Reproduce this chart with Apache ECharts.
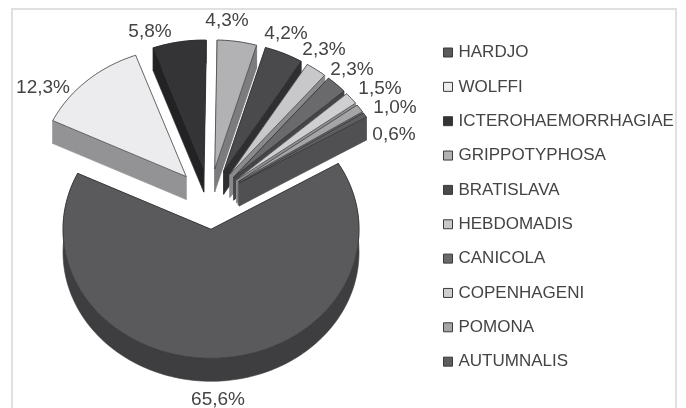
<!DOCTYPE html>
<html>
<head>
<meta charset="utf-8">
<style>html,body{margin:0;padding:0;background:#fff;overflow:hidden}#c{width:686px;height:408px;filter:blur(0.45px)}</style>
<script src="https://cdn.jsdelivr.net/npm/echarts@6/dist/echarts.min.js"></script>
</head>
<body>
<div id="c"></div>
<script>
const categories = ['HARDJO','WOLFFI','ICTEROHAEMORRHAGIAE','GRIPPOTYPHOSA','BRATISLAVA','HEBDOMADIS','CANICOLA','COPENHAGENI','POMONA','AUTUMNALIS'];
const values = [65.6,12.3,5.8,4.3,4.2,2.3,2.3,1.5,1.0,0.6];
const labels = ['65,6%','12,3%','5,8%','4,3%','4,2%','2,3%','2,3%','1,5%','1,0%','0,6%'];
const topColors = ['#5a5a5c','#ececee','#343436','#b2b2b4','#4a4a4c','#c8c8ca','#6a6a6c','#cfcfd1','#a5a5a7','#5e5e60'];
const sideColors = ['#3e3e40','#939395','#222224','#7c7c7e','#2f2f31','#8a8a8c','#454547','#8f8f91','#6f6f71','#505052'];
const labelAt = [[218,400],[43,88],[150,32],[227,21],[286,34],[324,50],[352,70],[380,89],[395,108],[394,135]];

const PIE = {cx:209.5, cy:199, rx:148, ry:129, depth:23, explode:0.235, start:59.3};
const total = values.reduce((a,b)=>a+b,0);
let running = 0;
const starts = values.map(v=>{const s=running; running+=v; return s;});

function pt(ox,oy,deg,k,dz){
  const a=deg*Math.PI/180;
  return [ox+Math.sin(a)*PIE.rx*k, oy-Math.cos(a)*PIE.ry*k+(dz||0)];
}
function renderWedge(params, api){
  const i = params.seriesIndex;
  const v = api.value(0), s = api.value(1);
  const a0 = PIE.start + s/total*360, a1 = a0 + v/total*360, mid=(a0+a1)/2;
  const [ox,oy] = pt(PIE.cx,PIE.cy,mid,PIE.explode);
  const arc=[]; const n=Math.max(4,Math.ceil((a1-a0)/1.5));
  for(let j=0;j<=n;j++) arc.push(pt(ox,oy,a0+(a1-a0)*j/n,1));
  const d=PIE.depth;
  const down=p=>[p[0],p[1]+d];
  const side={fill:sideColors[i],stroke:sideColors[i],lineWidth:0.6};
  const first=arc[0], last=arc[arc.length-1], apex=[ox,oy];
  const children=[
    {type:'polygon',shape:{points:[apex,first,down(first),down(apex)]},style:side},
    {type:'polygon',shape:{points:[apex,last,down(last),down(apex)]},style:side},
    {type:'polygon',shape:{points:arc.concat(arc.map(down).reverse())},style:side},
    {type:'polygon',shape:{points:[apex].concat(arc)},style:{fill:topColors[i],stroke:'#2c2c2e',lineWidth:0.6}},
    {type:'text',x:labelAt[i][0],y:labelAt[i][1],style:{text:labels[i],fill:'#444446',font:'19px "Liberation Sans"',align:'center',verticalAlign:'middle'}}
  ];
  return {type:'group',children};
}
const chart = echarts.init(document.getElementById('c'),null,{renderer:'canvas'});
chart.setOption({
  animation:false,
  backgroundColor:'#fff',
  graphic:[{type:'rect',z:-1,shape:{x:12,y:9,width:664,height:420},style:{fill:'#fff',stroke:'#e0e0e0',lineWidth:2}}],
  legend:{
    orient:'vertical',left:438,top:39,itemWidth:9,itemHeight:9,itemGap:17.35,
    icon:'rect',selectedMode:false,
    textStyle:{fontFamily:'Liberation Sans',fontSize:17,color:'#444446',padding:[0,0,0,1]},
    itemStyle:{borderColor:'#3a3a3c',borderWidth:1},
    data:categories
  },
  series:categories.map((name,i)=>({
    type:'custom',name,coordinateSystem:'none',silent:true,
    itemStyle:{color:topColors[i]},
    renderItem:renderWedge,
    data:[[values[i],starts[i]]]
  }))
});
</script>
</body>
</html>
